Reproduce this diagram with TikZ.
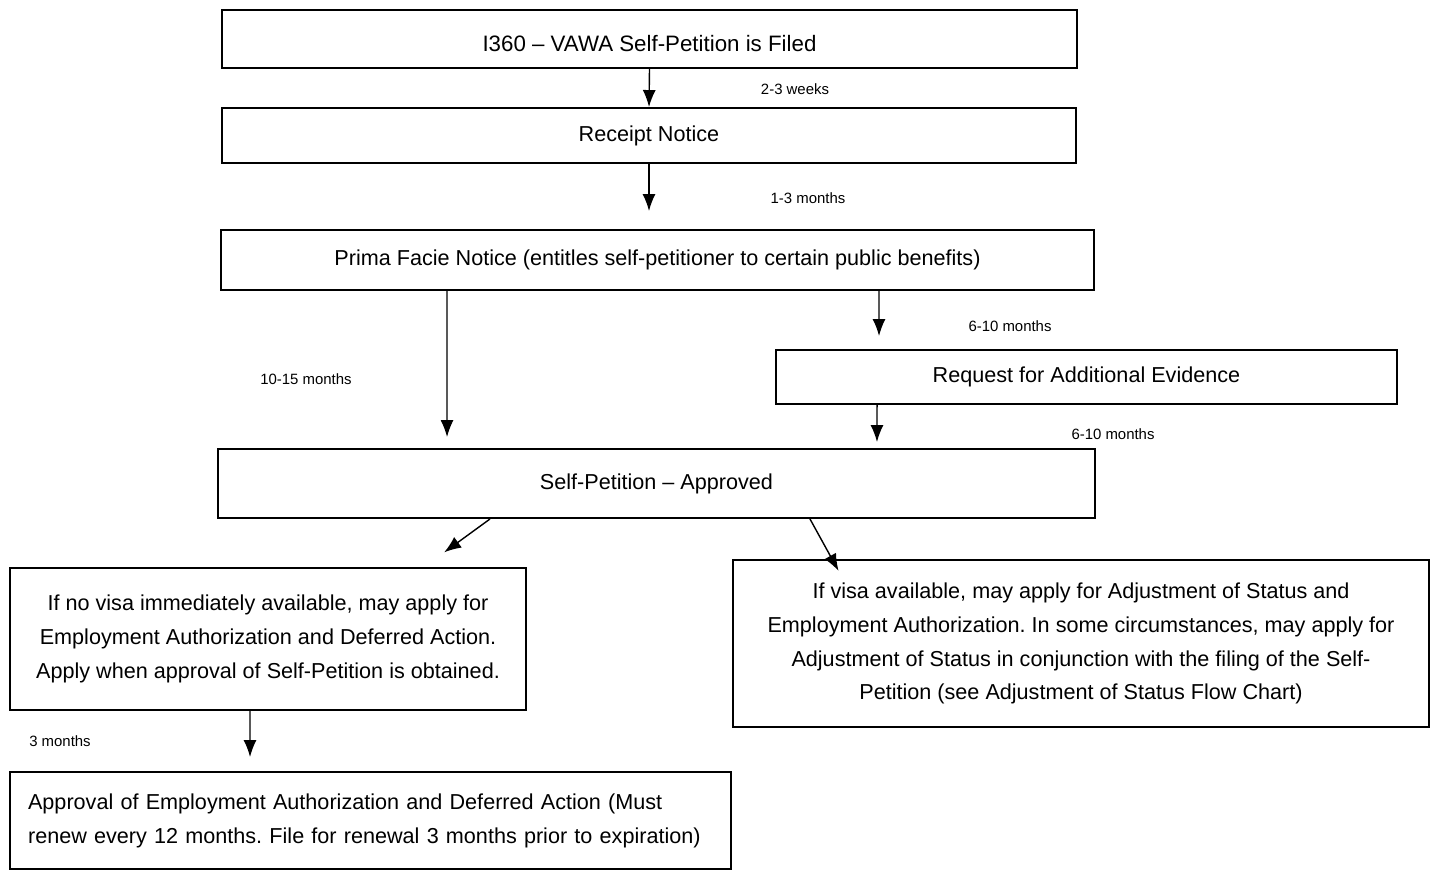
\documentclass[tikz,border=0pt]{standalone}
\usepackage{fontspec}
\setmainfont{Liberation Sans}
\frenchspacing
\usetikzlibrary{arrows.meta}

\tikzset{
	stage/.style={draw,line width=1.1pt,inner sep=0pt,font=\fontsize{12.3}{19.3}\selectfont},
	timelbl/.style={font=\fontsize{8.5}{10}\selectfont},
	flow/.style={line width=0.8pt,-{Latex[length=3.4mm,width=2.6mm]}}
}

\begin{document}
\begin{tikzpicture}[x=0.02cm,y=-0.02cm]
	\useasboundingbox (0,0) rectangle (1437,872);
	\node[stage,minimum width=17.1cm,minimum height=1.16cm,text height=0.52cm,font=\fontsize{12.7}{16}\selectfont] (filed) at (649.5,39){I360 -- VAWA Self-Petition is Filed};
	\node[stage,minimum width=17.08cm,minimum height=1.1cm] (receipt) at (649,135.5){Receipt Notice};
	\node[stage,minimum width=17.46cm,minimum height=1.2cm] (prima) at (657.5,260){Prima Facie Notice (entitles self-petitioner to certain public benefits)};
	\node[stage,minimum width=12.42cm,minimum height=1.08cm] (rfe) at (1086.5,377){Request for Additional Evidence};
	\node[stage,minimum width=17.54cm,minimum height=1.38cm] (approved) at (656.5,483.5){Self-Petition -- Approved};
	\node[stage,minimum width=10.32cm,minimum height=2.84cm,align=center] (novisa) at (268,639){If no visa immediately available, may apply for\\Employment Authorization and Deferred Action.\\Apply when approval of Self-Petition is obtained.};
	\node[stage,minimum width=13.92cm,minimum height=3.34cm,align=center] (visa) at (1081,643.5){If visa available, may apply for Adjustment of Status and\\Employment Authorization. In some circumstances, may apply for\\Adjustment of Status in conjunction with the filing of the Self-\\Petition (see Adjustment of Status Flow Chart)};
	\node[stage,inner xsep=0.36cm,text width=13.7cm,minimum height=1.94cm,align=left] (eadok) at (370.5,820.5){Approval of Employment Authorization and Deferred Action (Must\\renew every 12 months. File for renewal 3 months prior to expiration)};

	\node[timelbl] (t1) at (795,89){2-3 weeks};
	\node[timelbl] (t2) at (808,198){1-3 months};
	\node[timelbl] (t3) at (306,379){10-15 months};
	\node[timelbl] (t4) at (1010,326){6-10 months};
	\node[timelbl] (t5) at (1113,434){6-10 months};
	\node[timelbl] (t6) at (60,741){3 months};

	\draw[flow] (filed.south) -- (receipt.north);
	\draw[flow,shorten >=0.36cm] (receipt.south) -- (receipt.south |- prima.north);
	\draw[flow,shorten >=0.22cm] ([xshift=-4.21cm]prima.south) -- ([xshift=-4.19cm]approved.north);
	\draw[flow,shorten >=0.26cm] ([xshift=4.43cm]prima.south) -- ([xshift=-4.15cm]rfe.north);
	\draw[flow,shorten >=0.12cm] ([xshift=-4.19cm]rfe.south) -- ([xshift=4.41cm]approved.north);
	\draw[flow,shorten >=0.5cm] ([xshift=-3.33cm]approved.south) -- ([xshift=3.12cm]novisa.north);
	\draw[flow,shorten >=-0.27cm] ([xshift=3.07cm]approved.south) -- ([xshift=-4.98cm]visa.north);
	\draw[flow,shorten >=0.28cm] ([xshift=-0.36cm]novisa.south) -- ([xshift=-2.41cm]eadok.north);
\end{tikzpicture}
\end{document}
